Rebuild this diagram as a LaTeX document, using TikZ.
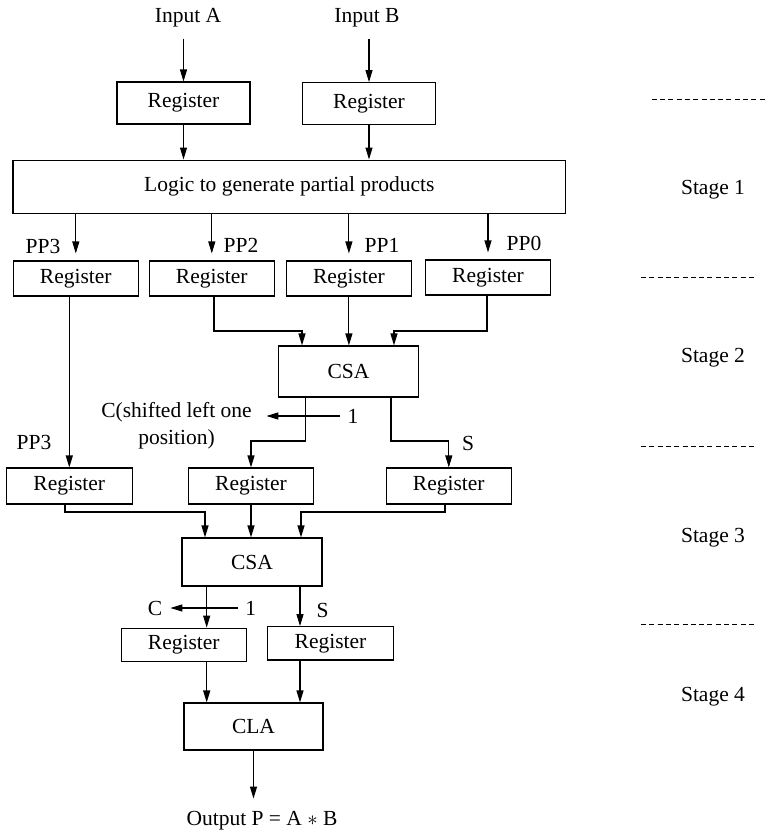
\documentclass[tikz,border=0pt]{standalone}
\usepackage{fontspec}
\setmainfont{Liberation Serif}
\usetikzlibrary{arrows.meta}
\begin{document}
\begin{tikzpicture}[x=1pt,y=-1pt,
  every node/.style={font=\fontsize{21.5}{27}\selectfont, inner sep=0pt},
  box/.style={draw, line width=1.1pt},
  reg/.style={box, minimum width=125.5pt, minimum height=35pt},
  blk/.style={box, minimum width=140pt, minimum height=49pt},
  wire/.style={line width=1.1pt},
  arr/.style={wire, -{Triangle[length=12pt,width=7pt]}},
  stagesep/.style={line width=1pt, dash pattern=on 5pt off 3.3pt}]
\useasboundingbox (0,0) rectangle (767,833);

% inputs and input registers
\node (inA) at (188,18) {Input A};
\node (inB) at (367,18) {Input B};
\node[box, minimum width=133pt, minimum height=42pt] (regA) at (183.5,103) {Register};
\node[box, minimum width=133.5pt, minimum height=41.5pt] (regB) at (369,103.4) {Register};

% partial product generator
\node[box, minimum width=552.7pt, minimum height=53.3pt] (logic) at (289.3,186.7) {Logic to generate partial products};

% stage 1 registers
\node[reg] (r3) at (75.8,278.5) {Register};
\node[reg] (r2) at (211.8,278.5) {Register};
\node[reg] (r1) at (348.9,278.5) {Register};
\node[reg] (r0) at (488,277.5) {Register};
\node (pp3) at (43,246.7) {PP3};
\node (pp2) at (241,245) {PP2};
\node (pp1) at (382,245) {PP1};
\node (pp0) at (524,243) {PP0};

% first carry-save adder
\node[blk, minimum height=51pt] (csa1) at (348.5,371.5) {CSA};

% stage 2 registers
\node[reg, minimum height=36pt] (r3b) at (69.3,486) {Register};
\node[reg, minimum height=36pt] (rcb) at (251,486) {Register};
\node[reg, minimum height=36pt] (rsb) at (448.8,486) {Register};
\node (pp3b) at (34,442) {PP3};
\node (one1) at (353,416) {1};
\node[align=center] (cshift) at (176.5,426) {C(shifted left one\\position)};
\node (s1) at (468,443) {S};

% second carry-save adder
\node[blk, minimum height=48pt] (csa2) at (252,562) {CSA};

% stage 3 registers
\node[reg, minimum height=33.7pt] (rc2) at (183.8,645) {Register};
\node[reg, minimum height=33.3pt] (rs2) at (330.5,643.3) {Register};
\node (one2) at (250.7,608) {1};
\node (cl) at (155,608) {C};
\node (s2) at (322.7,610) {S};

% carry-lookahead adder and result
\node[blk, minimum width=139pt, minimum height=47pt] (cla) at (253.5,726.5) {CLA};
\node (outp) at (262,820.7) {Output P = A $\ast$ B};

% bend levels and tap points
\coordinate (lv1) at (0,331);
\coordinate (lv2) at (0,441);
\coordinate (lv3) at (0,512);
\coordinate (c1a) at ([xshift=-46.5pt]csa1.north);
\coordinate (c1c) at ([xshift=45.5pt]csa1.north);
\coordinate (c1cout) at ([xshift=-43pt]csa1.south);
\coordinate (c1sout) at ([xshift=42.5pt]csa1.south);
\coordinate (c2a) at ([xshift=-47pt]csa2.north);
\coordinate (c2c) at ([xshift=49pt]csa2.north);
\coordinate (c2cout) at ([xshift=-45.3pt]csa2.south);
\coordinate (c2sout) at ([xshift=48pt]csa2.south);

% input paths
\draw[arr] (inA.south -| regA.north) ++(0,11) -- (regA.north);
\draw[arr] (inB.south -| regB.north) ++(0,11) -- (regB.north);
\draw[arr] (regA.south) -- (regA.south |- logic.north);
\draw[arr] (regB.south) -- (regB.south |- logic.north);

% partial products
\foreach \r in {r3,r2,r1,r0}
  \draw[arr, shorten >=7pt] (\r.north |- logic.south) -- (\r.north);

% into the first CSA
\draw[arr] ([xshift=2.2pt]r2.south) |- (c1a |- lv1) -- (c1a);
\draw[arr] (r1.south) -- (r1.south |- csa1.north);
\draw[arr] ([xshift=-1pt]r0.south) |- (c1c |- lv1) -- (c1c);
\draw[arr] (r3b.north |- r3.south) -- (r3b.north);

% out of the first CSA
\draw[arr] (c1cout) |- (rcb.north |- lv2) -- (rcb.north);
\draw[arr] (c1sout) |- (rsb.north |- lv2) -- (rsb.north);
\draw[arr] ([xshift=-7pt]one1.west) -- ++(-74,0);

% into the second CSA
\draw[arr] ([xshift=-4.3pt]r3b.south) |- (c2a |- lv3) -- (c2a);
\draw[arr] (rcb.south) -- (rcb.south |- csa2.north);
\draw[arr] ([xshift=-3.8pt]rsb.south) |- (c2c |- lv3) -- (c2c);

% out of the second CSA
\draw[arr] (c2cout) -- (c2cout |- rc2.north);
\draw[arr] (c2sout) -- (c2sout |- rs2.north);
\draw[arr, shorten >=8pt] ([xshift=-7pt]one2.west) -- (one2.west -| cl.east);

% into the CLA and the result
\draw[arr] (c2cout |- rc2.south) -- (c2cout |- cla.north);
\draw[arr] (c2sout |- rs2.south) -- (c2sout |- cla.north);
\draw[arr] (cla.south) -- ++(0,48);

% pipeline stage boundaries
\coordinate (d1a) at (651.7,99.3);  \coordinate (d1b) at (767,99.3);
\coordinate (d2a) at (641,277.3);   \coordinate (d2b) at (757,277.3);
\coordinate (d3a) at (641,446);     \coordinate (d3b) at (757,446);
\coordinate (d4a) at (641,624);     \coordinate (d4b) at (757,624);
\draw[stagesep] (d1a) -- (d1b);
\draw[stagesep] (d2a) -- (d2b);
\draw[stagesep] (d3a) -- (d3b);
\draw[stagesep] (d4a) -- (d4b);
\node (st1) at (713,190) {Stage 1};
\node (st2) at (713,358) {Stage 2};
\node (st3) at (713,538) {Stage 3};
\node (st4) at (713,696.7) {Stage 4};
\end{tikzpicture}
\end{document}
